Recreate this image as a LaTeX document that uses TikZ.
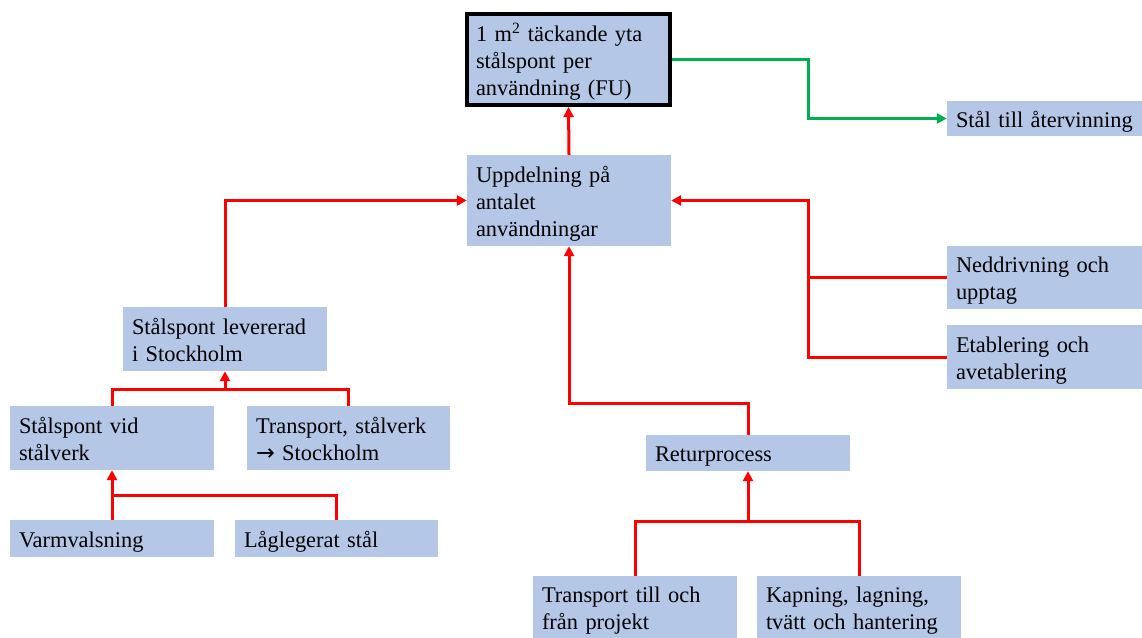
\documentclass[tikz,border=0pt]{standalone}
\usepackage{fontspec}
\setmainfont{Liberation Serif}
\newfontfamily\arrowfont{DejaVu Sans}
\usetikzlibrary{arrows.meta}
\definecolor{boxblue}{RGB}{180,199,231}
\definecolor{flowred}{RGB}{255,0,0}
\definecolor{flowgreen}{RGB}{0,176,80}
\tikzset{
  box/.style={rectangle, fill=boxblue, inner xsep=9pt, inner ysep=0pt,
    align=left, font=\fontsize{22.4}{27}\selectfont,
    execute at begin node={\rule{0pt}{22pt}},
    execute at end node={\rule[-5pt]{0pt}{5pt}}},
  wire/.style={draw=flowred, line width=3pt},
  arrowwire/.style={wire, -{Triangle[length=10pt,width=10pt]}},
  recycle/.style={draw=flowgreen, line width=3pt, -{Triangle[length=10pt,width=10pt]}},
}
\newcommand{\bx}[6]{% name, cx, cy, w, h, text
  \node[box, minimum width=#4pt, minimum height=#5pt, text width=#4pt-18pt] (#1) at (#2,#3) {#6};}
\begin{document}
\begin{tikzpicture}[x=1pt,y=-1pt]
\useasboundingbox (0,0) rectangle (1142,637);
\fill[white] (0,0) rectangle (1142,637);

% functional unit
\node[box, draw=black, line width=4pt, minimum width=203pt, minimum height=91pt,
  text width=185pt] (fu) at (568.5,59.5) {1 m\textsuperscript{2} täckande yta\\stålspont per\\användning (FU)};

\bx{upp}{569}{200.5}{204}{91}{Uppdelning på\\antalet\\användningar}
\bx{ater}{1044.5}{118.5}{195}{35}{Stål till återvinning}
\bx{ned}{1044.5}{277.5}{195}{63}{Neddrivning och\\upptag}
\bx{eta}{1044.5}{357}{195}{64}{Etablering och\\avetablering}
\bx{lev}{225}{339}{204}{64}{Stålspont levererad\\i Stockholm}
\bx{vid}{112}{438}{204}{64}{Stålspont vid\\stålverk}
\bx{trs}{348.5}{438}{203}{64}{Transport, stålverk\\{\arrowfont →} Stockholm}
\bx{varm}{112}{538.5}{204}{37}{Varmvalsning}
\bx{lag}{336.5}{538.5}{203}{37}{Låglegerat stål}
\bx{ret}{748}{453}{204}{36}{Returprocess}
\bx{tp}{635}{607.5}{204}{63}{Transport till och\\från projekt}
\bx{kap}{859}{607.5}{204}{63}{Kapning, lagning,\\tvätt och hantering}

% junction points
\coordinate (jg) at (808,59.5);
\coordinate (jr) at (808,200.5);
\coordinate (jl) at (225,389);
\coordinate (jv) at (112,495);
\coordinate (jt) at (569,403);
\coordinate (jb) at (748,521);

% connectors
\draw[arrowwire] (upp.north) -- (fu.south);
\draw[recycle] (fu.east) -- (jg) |- (ater.west);
\draw[wire] (eta.west) -| (jr);
\draw[arrowwire] (ned.west) -| (jr) -- (upp.east);
\draw[arrowwire] (lev.north) |- (upp.west);
\draw[wire] (vid.north) |- (jl) -| (trs.north);
\draw[arrowwire] (jl) -- (lev.south);
\draw[wire] (varm.north) -- (jv) -| (lag.north);
\draw[arrowwire] (jv) -- (vid.south);
\draw[arrowwire] (ret.north) |- (jt) -- (upp.south);
\draw[wire] (tp.north) |- (jb) -| (kap.north);
\draw[arrowwire] (jb) -- (ret.south);
\end{tikzpicture}
\end{document}
